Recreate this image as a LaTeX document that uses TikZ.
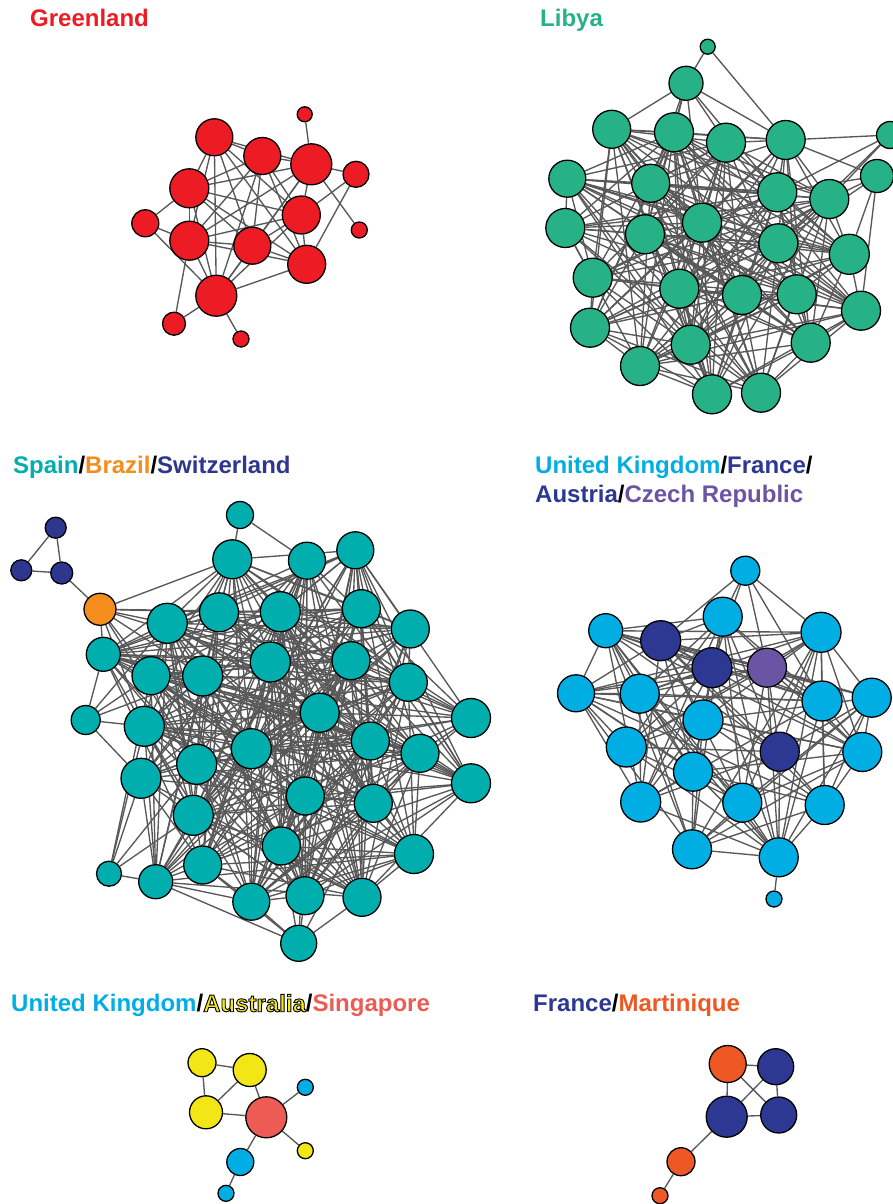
\documentclass[tikz,border=0pt]{standalone}
\usepackage{fontspec}
\setmainfont{Liberation Sans}
\definecolor{grl}{RGB}{237,28,36}
\definecolor{lib}{RGB}{38,178,134}
\definecolor{spn}{RGB}{0,174,174}
\definecolor{brz}{RGB}{245,140,30}
\definecolor{swz}{RGB}{46,55,143}
\definecolor{ukb}{RGB}{0,174,228}
\definecolor{fra}{RGB}{44,56,145}
\definecolor{cze}{RGB}{106,84,163}
\definecolor{aus}{RGB}{242,230,22}
\definecolor{sgp}{RGB}{236,92,84}
\definecolor{mtq}{RGB}{238,88,36}
\definecolor{edgegray}{RGB}{88,88,88}
\newcommand\outlinedword[1]{{\color{aus}\special{pdf:literal direct 0 0 0 RG 0.9 w 2 Tr}#1\special{pdf:literal direct 0 Tr}}}
\newcommand\randedges[3]{%
  \foreach \i in {1,...,#2}{\foreach \j in {1,...,#2}{%
    \ifnum\j>\i\relax
      \pgfmathtruncatemacro\keep{rnd<#3}%
      \ifnum\keep=1 \draw[edge] (#1\i) -- (#1\j);\fi
    \fi}}}
\pgfdeclarelayer{background}
\pgfsetlayers{background,main}
\tikzset{
  vtx/.style={circle, draw=black, line width=1.3pt, inner sep=0pt, fill=#1},
  edge/.style={draw=edgegray, line width=1.35pt},
  ttl/.style={anchor=base west, inner sep=0pt, font=\fontsize{24}{29}\selectfont\bfseries},
}
\begin{document}
\begin{tikzpicture}[x=1pt,y=-1pt]
\useasboundingbox (0,0) rectangle (892,1204);
\pgfmathsetseed{42}

% ---------------- titles
\node[ttl, text=grl] (tG) at (30,26.7) {Greenland};
\node[ttl, text=lib] (tL) at (540,26.7) {Libya};
\node[ttl] (tS) at (13,473) {{\color{spn}Spain}/{\color{brz}Brazil}/{\color{swz}Switzerland}};
\node[ttl] (tU1) at (535,473) {{\color{ukb}United Kingdom}/{\color{fra}France}/};
\node[ttl] (tU2) at (535,502) {{\color{fra}Austria}/{\color{cze}Czech Republic}};
\node[ttl] (tA) at (11,1011.7) {{\color{ukb}United Kingdom}/\outlinedword{Australia}/{\color{sgp}Singapore}};
\node[ttl] (tM) at (533,1011.7) {{\color{fra}France}/{\color{mtq}Martinique}};

% ---------------- Greenland
\foreach \n/\x/\y/\r in {1/214.3/137.3/19, 2/262.3/156/19, 3/311.3/164.3/21, 4/304.7/114.3/8,
  5/356/174.3/13.5, 6/189.3/188.3/20, 7/301.3/215/19.5, 8/145.3/223.3/14, 9/359.3/230/8.5,
  10/189.3/240.7/20, 11/252.3/245.7/19, 12/306.7/264.3/19.5, 13/216.3/295.7/21, 14/174/323.7/12, 15/241/339/8.5}
  \node[vtx=grl, minimum size=2*\r-1] (g\n) at (\x,\y) {};
\begin{pgfonlayer}{background}
\foreach \a/\b in {1/2,1/3,1/6,1/10,1/13,1/11,1/7,1/12,
  2/3,2/6,2/10,2/11,2/13,2/7,2/12,
  3/4,3/5,3/9,3/6,3/7,3/10,3/11,3/13,
  5/12,5/7,
  6/8,6/10,6/7,6/11,6/12,6/13,
  8/10,8/13,
  7/10,7/11,7/12,7/13,
  10/11,10/12,10/13,10/14,
  11/12,11/13,12/13,13/14,13/15}
  \draw[edge] (g\a) -- (g\b);
\end{pgfonlayer}

% ---------------- Libya
\foreach \n/\x/\y/\r in {1/611.7/129.3/19.5, 2/674/132.3/20, 3/726/142.7/20, 4/785.7/140/20,
  5/567.3/178.7/19, 6/650.7/183.3/19.5, 7/777.3/192.3/20, 8/829.3/199/20,
  9/565.3/228/20, 10/645/234.3/20, 11/702/222.7/20, 12/778.3/243.3/20, 13/849.3/254.3/20.5,
  14/592.7/277.7/20, 15/679.3/288.7/20, 16/742/295/20, 17/796.7/294.3/20, 18/861/310.7/20,
  19/590/327.7/20, 20/690.7/344.7/20, 21/810.7/342.7/20, 22/640/366/20, 23/712/394.3/20, 24/761/392.7/20}
  \node[vtx=lib, minimum size=2*\r-1] (L\n) at (\x,\y) {};
\node[vtx=lib, minimum size=15] (LA) at (707.7,46.7) {};
\node[vtx=lib, minimum size=34] (LB) at (686,83.3) {};
\node[vtx=lib, minimum size=27] (LC) at (890,135) {};
\node[vtx=lib, minimum size=33] (LD) at (877,176) {};
\begin{pgfonlayer}{background}
\randedges{L}{24}{0.72}
\foreach \a/\b in {LA/LB, LA/L4, LB/L1, LB/L2, LB/L3, LB/L4, LB/L6, LB/L11, LB/L7, LB/L10,
  LC/L4, LC/L7, LC/L8, LC/L12, LD/L4, LD/L7, LD/L8, LD/L13, LD/L18, LD/L12}
  \draw[edge] (\a) -- (\b);
\end{pgfonlayer}

% ---------------- Spain / Brazil / Switzerland
\foreach \n/\x/\y/\r in {1/232.3/559.3/20, 2/307/560.7/19, 3/355.3/550.3/19, 4/167.3/623.3/20.5,
  5/219/612.3/20, 6/280.3/611.7/20.5, 7/361.3/608.7/19.5, 8/410.3/629/19.5, 9/103.3/654.3/17.5,
  10/151/675.7/19.5, 11/202.7/676/20.5, 12/270.3/662/20.5, 13/351/660.7/19.5, 14/408.3/682.3/19.5,
  15/144.3/726.3/20.5, 16/319.7/712.7/20, 17/471/718/20, 18/370.3/741/19.5, 19/251.3/748.7/20.5,
  20/420/753.3/19.5, 21/141/778.3/20.5, 22/196.7/764.3/20.5, 23/471/783.3/20, 24/305.3/796/19.5,
  25/373.3/803.3/19.5, 26/193.3/815.3/20.5, 27/281.3/846/19.5, 28/414/854/20, 29/155.7/881.7/17.5,
  30/202.7/865/19.5, 31/251.3/901.7/19, 32/305/895.7/19.5, 33/362/897.3/19.5}
  \node[vtx=spn, minimum size=2*\r-1] (S\n) at (\x,\y) {};
\node[vtx=spn, minimum size=27] (STop) at (240,515) {};
\node[vtx=spn, minimum size=29] (SL1) at (85.7,720) {};
\node[vtx=spn, minimum size=25] (SL2) at (109,873.7) {};
\node[vtx=spn, minimum size=36] (SBot) at (298.7,943.3) {};
\node[vtx=brz, minimum size=32] (SO) at (100,609.3) {};
\node[vtx=swz, minimum size=21] (SW1) at (55.7,527.7) {};
\node[vtx=swz, minimum size=21] (SW2) at (21.3,570.3) {};
\node[vtx=swz, minimum size=22] (SW3) at (61.7,573) {};
\begin{pgfonlayer}{background}
\randedges{S}{33}{0.62}
\foreach \a/\b in {SW1/SW2, SW1/SW3, SW2/SW3, SW3/SO,
  SO/S1, SO/S4, SO/S5, SO/S9, SO/S10, SO/S11, SO/S15, SO/S22, SO/S12, SO/S6,
  STop/S1, STop/S2,
  SL1/S9, SL1/S10, SL1/S15, SL1/S21, SL1/S11, SL1/S4,
  SL2/S21, SL2/S15, SL2/S22, SL2/S26, SL2/S29, SL2/S10,
  SBot/S27, SBot/S31, SBot/S32, SBot/S33, SBot/S30, SBot/S29, SBot/S24, SBot/S25}
  \draw[edge] (\a) -- (\b);
\end{pgfonlayer}

% ---------------- United Kingdom / France / Austria / Czech Republic
\foreach \n/\x/\y/\r/\c in {1/722.7/616.7/20/ukb, 2/605.7/630.7/17.5/ukb, 3/660.7/640.7/20.5/fra,
  4/821/632.3/20.5/ukb, 5/712/667.7/20.5/fra, 6/767/667.7/20/cze, 7/576/693.3/19/ukb,
  8/639.7/693.7/20/ukb, 9/822/701/20.5/ukb, 10/871.7/697.7/20/ukb, 11/703/720/20.5/ukb,
  12/779.7/751.7/20/fra, 13/626.3/747/20.5/ukb, 14/862.3/752/20/ukb, 15/693/771.7/20/ukb,
  16/640.7/802/20.5/ukb, 17/742.3/802.7/20/ukb, 18/824.7/805/20/ukb, 19/692/849.3/20/ukb,
  20/778.7/857.3/20/ukb}
  \node[vtx=\c, minimum size=2*\r-1] (U\n) at (\x,\y) {};
\node[vtx=ukb, minimum size=29] (UTop) at (745.3,570.7) {};
\node[vtx=ukb, minimum size=16] (UBot) at (774,899) {};
\begin{pgfonlayer}{background}
\randedges{U}{20}{0.66}
\foreach \a/\b in {UTop/U1, UTop/U4, UTop/U3, UTop/U5, UTop/U6, UTop/U9, UBot/U20}
  \draw[edge] (\a) -- (\b);
\end{pgfonlayer}

% ---------------- United Kingdom / Australia / Singapore
\foreach \n/\x/\y/\r/\c in {1/202/1062.7/14.5/aus, 2/249.7/1070/17/aus, 3/206/1112.3/17/aus,
  4/266.3/1117.3/21/sgp, 5/305.3/1087.3/8.5/ukb, 6/305.3/1150.7/8.5/aus, 7/240.3/1162/14/ukb,
  8/226/1193.3/8.5/ukb}
  \node[vtx=\c, minimum size=2*\r-1] (a\n) at (\x,\y) {};
\begin{pgfonlayer}{background}
\foreach \a/\b in {1/2,1/3,2/3,2/4,3/4,4/5,4/6,4/7,7/8}
  \draw[edge] (a\a) -- (a\b);
\end{pgfonlayer}

% ---------------- France / Martinique
\foreach \n/\x/\y/\r/\c in {1/727.7/1064/19/mtq, 2/775.7/1066.7/18.5/fra, 3/726.7/1116.7/21/fra,
  4/778.7/1115/18.5/fra, 5/681/1161.7/14.5/mtq, 6/660/1195.7/8.5/mtq}
  \node[vtx=\c, minimum size=2*\r-1] (m\n) at (\x,\y) {};
\begin{pgfonlayer}{background}
\foreach \a/\b in {1/2,1/3,1/4,2/3,2/4,3/4,3/5,5/6}
  \draw[edge] (m\a) -- (m\b);
\end{pgfonlayer}
\end{tikzpicture}
\end{document}
